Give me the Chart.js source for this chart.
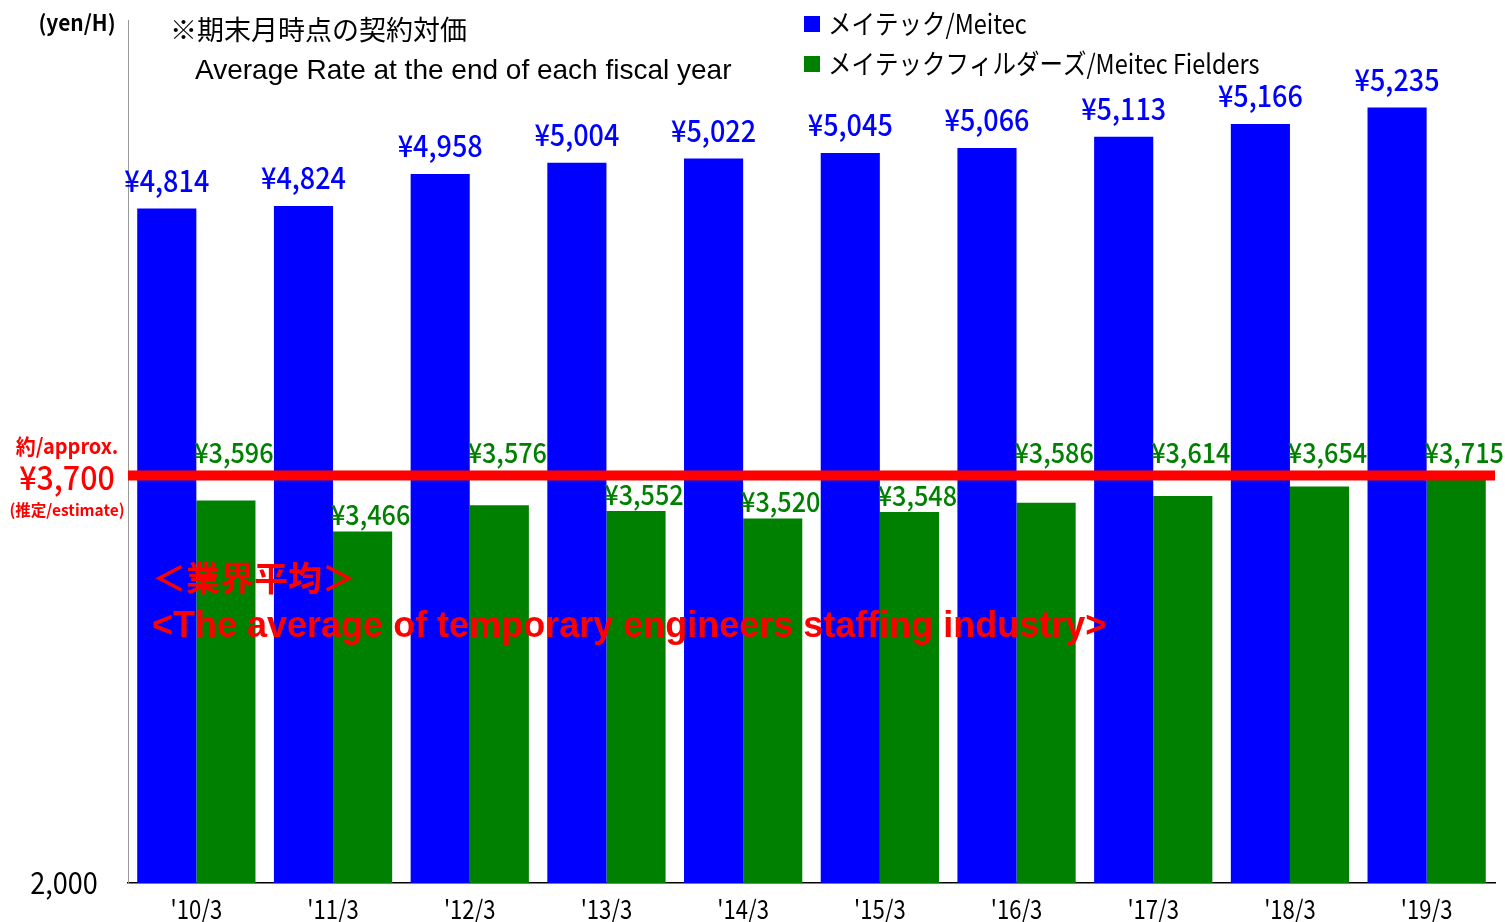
<!DOCTYPE html>
<html>
<head>
<meta charset="utf-8">
<script src="https://cdn.jsdelivr.net/npm/chart.js@4"></script>
<style>
  html, body { margin: 0; padding: 0; background: #fff; }
  #wrap { width: 1505px; height: 922px; }
</style>
</head>
<body>
<div id="wrap"><canvas id="rateChart"></canvas></div>
<script>
// data
const years = ["'10/3", "'11/3", "'12/3", "'13/3", "'14/3", "'15/3", "'16/3", "'17/3", "'18/3", "'19/3"];
const meitec = [4814, 4824, 4958, 5004, 5022, 5045, 5066, 5113, 5166, 5235];
const fielders = [3596, 3466, 3576, 3552, 3520, 3548, 3586, 3614, 3654, 3715];
const seriesNames = ["メイテック/Meitec", "メイテックフィルダーズ/Meitec Fielders"];
const industryAvg = 3700;
const yMin = 2000;
const yMax = 5600;

const JP = "'Noto Sans CJK JP', 'Noto Sans', sans-serif";
const BLUE = "#0000ff";
const GREEN = "#008000";
const RED = "#ff0000";

function yen(v) {
  return "¥" + v.toLocaleString("en-US");
}

// draw text squeezed horizontally (the original uses a narrow gothic)
function txt(ctx, s, x, y, font, color, sx, align) {
  ctx.save();
  ctx.translate(x, y);
  ctx.scale(sx, 1);
  ctx.font = font;
  ctx.fillStyle = color;
  ctx.textAlign = align || "center";
  ctx.textBaseline = "middle";
  ctx.fillText(s, 0, 0);
  ctx.restore();
}

const decorations = {
  id: "decorations",
  afterDatasetsDraw(chart) {
    const ctx = chart.ctx;
    const area = chart.chartArea;
    const yScale = chart.scales.y;
    const xScale = chart.scales.x;
    const lineY = yScale.getPixelForValue(industryAvg);

    // industry average line
    ctx.save();
    ctx.fillStyle = RED;
    ctx.fillRect(area.left, lineY - 5, area.right - area.left, 10);
    ctx.restore();

    // value labels
    const mMeta = chart.getDatasetMeta(0);
    const fMeta = chart.getDatasetMeta(1);
    mMeta.data.forEach((bar, i) => {
      txt(ctx, yen(meitec[i]), bar.x, bar.y - 28, "500 30px " + JP, BLUE, 0.9);
    });
    fMeta.data.forEach((bar, i) => {
      let y = bar.y - 17;
      if (bar.y - lineY < 33) y = lineY - 23;
      txt(ctx, yen(fielders[i]), bar.x + 8, y, "500 28px " + JP, GREEN, 0.9);
    });

    // category labels
    years.forEach((s, i) => {
      txt(ctx, s, xScale.getPixelForTick(i), area.bottom + 26, "26px " + JP, "#000", 0.85);
    });

    // axis texts
    txt(ctx, "(yen/H)", 77, 23, "bold 22px " + JP, "#000", 0.95);
    txt(ctx, "2,000", 64, 883, "30px " + JP, "#000", 0.9);

    // titles
    txt(ctx, "※期末月時点の契約対価", 170, 30, "27px " + JP, "#000", 1, "left");
    txt(ctx, "Average Rate at the end of each fiscal year", 195, 71, "28px 'Liberation Sans', Arial, sans-serif", "#000", 1, "left");

    // legend
    const legendColors = [BLUE, GREEN];
    seriesNames.forEach((name, i) => {
      const y = 24 + i * 40;
      ctx.fillStyle = legendColors[i];
      ctx.fillRect(804, y - 8, 16, 16);
      txt(ctx, name, 828, y, "27px " + JP, "#000", 0.87, "left");
    });

    // left side annotation
    txt(ctx, "約/approx.", 67, 446, "bold 21px " + JP, RED, 0.95);
    txt(ctx, "¥3,700", 67, 477, "500 33px " + JP, RED, 0.92);
    txt(ctx, "(推定/estimate)", 67, 510, "bold 16px " + JP, RED, 0.97);

    // industry caption
    txt(ctx, "＜業界平均＞", 152, 578, "bold 34px " + JP, RED, 1, "left");
    txt(ctx, "<The average of temporary engineers staffing industry>", 152, 627, "bold 36px 'Liberation Sans', Arial, sans-serif", RED, 1, "left");
  }
};

window.addEventListener("DOMContentLoaded", () => {
  const ctx = document.getElementById("rateChart").getContext("2d");
  new Chart(ctx, {
    type: "bar",
    data: {
      labels: years,
      datasets: [
        { label: seriesNames[0], data: meitec, backgroundColor: BLUE, barPercentage: 1, categoryPercentage: 0.865 },
        { label: seriesNames[1], data: fielders, backgroundColor: GREEN, barPercentage: 1, categoryPercentage: 0.865 }
      ]
    },
    options: {
      responsive: true,
      maintainAspectRatio: false,
      animation: false,
      layout: { padding: { left: 120, right: 10, top: 20, bottom: 31 } },
      plugins: { legend: { display: false }, tooltip: { enabled: false } },
      scales: {
        x: {
          grid: { display: false },
          border: { color: "#000", width: 1.5 },
          ticks: { display: false }
        },
        y: {
          min: yMin,
          max: yMax,
          grid: { display: false },
          border: { color: "#999", width: 1 },
          ticks: { display: false }
        }
      }
    },
    plugins: [decorations]
  });
});
</script>
</body>
</html>
